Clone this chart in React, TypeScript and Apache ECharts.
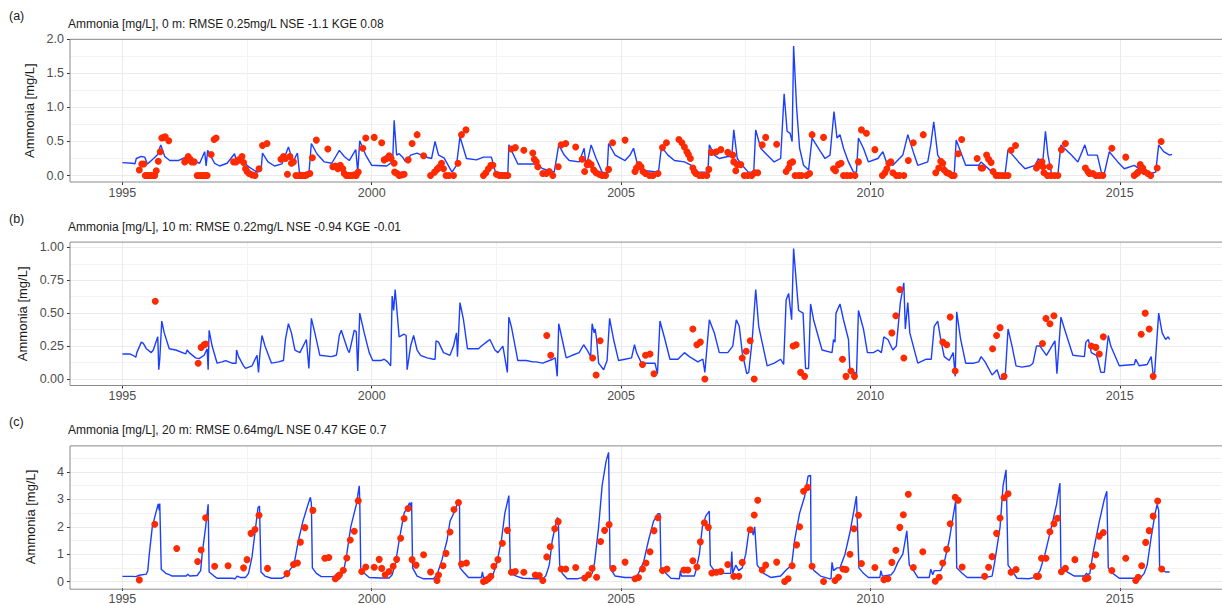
import React, { useEffect, useRef } from "react";
import * as echarts from "echarts";

// Modelled ammonia concentration at three depths (decimal year, mg/L)
const modelSurface: [number, number][] = [
  [1995.00,0.19],[1995.20,0.18],[1995.25,0.17],[1995.28,0.25],[1995.38,0.28],[1995.45,0.27],[1995.50,0.17],[1995.55,0.20],[1995.70,0.30],[1995.77,0.45],[1995.85,0.28],[1995.95,0.22],
  [1996.12,0.22],[1996.30,0.28],[1996.42,0.22],[1996.55,0.18],[1996.65,0.35],[1996.68,0.14],[1996.71,0.37],[1996.85,0.18],[1996.95,0.14],
  [1997.10,0.18],[1997.25,0.32],[1997.30,0.17],[1997.40,0.21],[1997.55,0.12],[1997.70,0.05],[1997.78,0.07],[1997.81,0.33],[1997.92,0.20],
  [1998.05,0.14],[1998.20,0.17],[1998.33,0.42],[1998.42,0.20],[1998.51,0.33],[1998.55,0.05],[1998.74,0.02],[1998.79,0.47],[1998.90,0.32],
  [1999.05,0.20],[1999.20,0.18],[1999.35,0.37],[1999.45,0.28],[1999.55,0.22],[1999.68,0.38],[1999.72,0.05],[1999.76,0.51],[1999.88,0.30],
  [2000.00,0.15],[2000.30,0.14],[2000.42,0.20],[2000.45,0.81],[2000.50,0.30],[2000.55,0.32],[2000.62,0.27],[2000.68,0.20],[2000.78,0.30],[2000.91,0.33],
  [2001.05,0.28],[2001.20,0.25],[2001.27,0.50],[2001.34,0.30],[2001.45,0.26],[2001.61,0.05],[2001.70,0.15],[2001.77,0.57],[2001.90,0.25],
  [2002.10,0.23],[2002.24,0.27],[2002.40,0.27],[2002.48,0.05],[2002.73,0.03],[2002.75,0.45],[2002.93,0.17],
  [2003.30,0.17],[2003.43,0.10],[2003.66,0.05],[2003.75,0.45],[2003.86,0.30],[2003.96,0.22],
  [2004.16,0.20],[2004.26,0.40],[2004.30,0.12],[2004.40,0.45],[2004.50,0.25],[2004.62,0.05],[2004.72,0.04],[2004.75,0.47],[2004.88,0.30],
  [2005.08,0.22],[2005.18,0.30],[2005.25,0.40],[2005.35,0.10],[2005.50,0.07],[2005.75,0.05],[2005.81,0.42],[2005.94,0.30],
  [2006.07,0.22],[2006.27,0.20],[2006.41,0.15],[2006.54,0.05],[2006.74,0.05],[2006.77,0.45],[2006.87,0.30],[2006.97,0.25],
  [2007.14,0.28],[2007.22,0.28],[2007.26,0.67],[2007.33,0.25],[2007.43,0.15],[2007.55,0.05],[2007.66,0.05],[2007.70,0.67],[2007.80,0.40],[2007.93,0.30],
  [2008.07,0.20],[2008.20,0.25],[2008.27,1.20],[2008.33,0.65],[2008.39,0.62],[2008.43,0.50],[2008.46,1.90],[2008.52,1.00],[2008.58,0.40],[2008.66,0.15],[2008.76,0.08],[2008.83,0.55],
  [2009.00,0.35],[2009.09,0.25],[2009.19,0.30],[2009.27,0.94],[2009.33,0.55],[2009.39,0.60],[2009.46,0.40],[2009.56,0.20],[2009.66,0.05],[2009.72,0.05],[2009.76,0.55],[2009.86,0.40],[2009.96,0.20],
  [2010.15,0.25],[2010.25,0.35],[2010.32,0.20],[2010.45,0.15],[2010.65,0.30],[2010.75,0.60],[2010.88,0.30],[2010.95,0.15],
  [2011.15,0.20],[2011.21,0.45],[2011.27,0.79],[2011.35,0.30],[2011.51,0.10],[2011.68,0.02],[2011.72,0.52],[2011.91,0.15],
  [2012.17,0.15],[2012.22,0.20],[2012.44,0.05],[2012.70,0.02],[2012.76,0.38],[2012.97,0.20],
  [2013.10,0.10],[2013.30,0.15],[2013.37,0.25],[2013.45,0.15],[2013.51,0.65],[2013.56,0.30],[2013.63,0.03],[2013.76,0.02],[2013.82,0.45],
  [2014.03,0.30],[2014.16,0.20],[2014.30,0.45],[2014.36,0.30],[2014.55,0.30],[2014.63,0.05],[2014.69,0.03],[2014.79,0.35],[2014.96,0.20],
  [2015.09,0.10],[2015.29,0.15],[2015.49,0.05],[2015.62,0.03],[2015.72,0.05],[2015.78,0.45],[2015.88,0.35],[2016.00,0.30],[2016.05,0.31],
];

const observedSurface: [number, number][] = [
  [1995.34,0.08],[1995.39,0.17],[1995.43,0.17],[1995.46,0],[1995.49,0],[1995.52,0],[1995.55,0],[1995.58,0],[1995.62,0],[1995.65,0],[1995.68,0.07],[1995.72,0.21],[1995.76,0.35],[1995.79,0.55],[1995.83,0.56],[1995.86,0.57],[1995.93,0.51],
  [1996.25,0.2],[1996.29,0.23],[1996.32,0.28],[1996.36,0.24],[1996.39,0.2],[1996.44,0.2],[1996.5,0],[1996.54,0],[1996.58,0],[1996.62,0],[1996.66,0],[1996.7,0],[1996.78,0.31],[1996.84,0.53],[1996.88,0.55],
  [1997.23,0.2],[1997.28,0.2],[1997.33,0.23],[1997.4,0.28],[1997.43,0.19],[1997.47,0.1],[1997.5,0.06],[1997.54,0.03],[1997.6,0.01],[1997.66,0],[1997.74,0.1],[1997.81,0.44],[1997.9,0.47],
  [1998.18,0.24],[1998.23,0.28],[1998.27,0.25],[1998.31,0.02],[1998.36,0.28],[1998.39,0.18],[1998.43,0.2],[1998.48,0],[1998.54,0],[1998.58,0],[1998.62,0],[1998.66,0],[1998.7,0.01],[1998.76,0.03],[1998.81,0.26],[1998.89,0.52],
  [1999.12,0.39],[1999.22,0.13],[1999.27,0.14],[1999.32,0.1],[1999.37,0.15],[1999.42,0.1],[1999.45,0.03],[1999.49,0],[1999.53,0],[1999.57,0],[1999.61,0],[1999.65,0.01],[1999.69,0],[1999.73,0.05],[1999.82,0.4],[1999.88,0.55],
  [2000.05,0.56],[2000.2,0.48],[2000.25,0.23],[2000.3,0.25],[2000.35,0.29],[2000.39,0.25],[2000.45,0.18],[2000.46,0.05],[2000.51,0.03],[2000.55,0],[2000.6,0.01],[2000.65,0.02],[2000.73,0.23],[2000.81,0.47],[2000.91,0.6],
  [2001.04,0.29],[2001.18,0],[2001.26,0.05],[2001.31,0.09],[2001.35,0.12],[2001.4,0.18],[2001.44,0.1],[2001.49,0],[2001.55,0],[2001.64,0],[2001.73,0.18],[2001.8,0.6],[2001.89,0.67],
  [2002.24,0],[2002.29,0.04],[2002.34,0.1],[2002.39,0.15],[2002.43,0.15],[2002.5,0.02],[2002.56,0],[2002.62,0],[2002.68,0],[2002.73,0],[2002.8,0.39],[2002.88,0.41],
  [2003.05,0.37],[2003.23,0.33],[2003.26,0.24],[2003.3,0.2],[2003.33,0.13],[2003.43,0.03],[2003.5,0.03],[2003.56,0.06],[2003.63,0],[2003.74,0.13],[2003.8,0.45],[2003.89,0.47],
  [2004.09,0.42],[2004.22,0.24],[2004.27,0.06],[2004.32,0.16],[2004.35,0.19],[2004.4,0.16],[2004.45,0.08],[2004.5,0.04],[2004.56,0.02],[2004.62,0],[2004.69,0],[2004.75,0.09],[2004.83,0.48],
  [2005.08,0.52],[2005.28,0.06],[2005.31,0.11],[2005.36,0.16],[2005.4,0.13],[2005.44,0.06],[2005.49,0.03],[2005.57,0],[2005.64,0],[2005.74,0.03],[2005.83,0.41],[2005.91,0.48],
  [2006.16,0.53],[2006.22,0.48],[2006.27,0.42],[2006.32,0.35],[2006.35,0.31],[2006.39,0.25],[2006.44,0.11],[2006.47,0.06],[2006.5,0.03],[2006.57,0],[2006.64,0],[2006.72,0],[2006.76,0.09],[2006.81,0.34],[2006.91,0.35],
  [2007.0,0.38],[2007.14,0.34],[2007.24,0.3],[2007.26,0.2],[2007.3,0.07],[2007.33,0.16],[2007.4,0.16],[2007.47,0],[2007.54,0],[2007.62,0],[2007.68,0.04],[2007.74,0.04],[2007.83,0.45],[2007.9,0.56],
  [2008.12,0.46],[2008.31,0.06],[2008.36,0.11],[2008.39,0.18],[2008.44,0.2],[2008.49,0],[2008.56,0],[2008.62,0],[2008.72,0],[2008.78,0.03],[2008.83,0.6],
  [2009.06,0.56],[2009.26,0.1],[2009.3,0.07],[2009.36,0.16],[2009.41,0.18],[2009.46,0],[2009.53,0],[2009.6,0],[2009.69,0],[2009.76,0.2],[2009.82,0.67],[2009.92,0.62],
  [2010.09,0.38],[2010.24,0],[2010.29,0.04],[2010.33,0.1],[2010.37,0.18],[2010.41,0.2],[2010.45,0.04],[2010.52,0],[2010.58,0],[2010.67,0],[2010.76,0.22],[2010.86,0.48],
  [2011.06,0.6],[2011.31,0.04],[2011.37,0.11],[2011.41,0.21],[2011.45,0.18],[2011.48,0.08],[2011.53,0.04],[2011.58,0.03],[2011.63,0],[2011.68,0],[2011.76,0.32],[2011.83,0.53],
  [2012.14,0.25],[2012.22,0.11],[2012.25,0.11],[2012.33,0.3],[2012.37,0.24],[2012.42,0.19],[2012.46,0.06],[2012.52,0],[2012.58,0],[2012.64,0],[2012.7,0],[2012.76,0],[2012.82,0.37],[2012.91,0.44],
  [2013.33,0.11],[2013.36,0.15],[2013.41,0.18],[2013.44,0.2],[2013.46,0.13],[2013.48,0.04],[2013.55,0],[2013.59,0.13],[2013.62,0],[2013.69,0],[2013.76,0],[2013.83,0.38],[2013.91,0.47],
  [2014.31,0.11],[2014.36,0.06],[2014.39,0.03],[2014.46,0.03],[2014.52,0],[2014.59,0],[2014.66,0],[2014.84,0.4],
  [2015.12,0.27],[2015.29,0],[2015.34,0.03],[2015.37,0.05],[2015.41,0.16],[2015.46,0.11],[2015.49,0.06],[2015.56,0.03],[2015.62,0],[2015.75,0.11],[2015.83,0.5],
];

const modelMid: [number, number][] = [
  [1995.0,0.19],[1995.15,0.19],[1995.21,0.18],[1995.27,0.165],[1995.29,0.2],[1995.38,0.28],[1995.42,0.27],[1995.48,0.23],[1995.58,0.2],[1995.62,0.22],[1995.71,0.32],[1995.73,0.07],[1995.75,0.15],[1995.79,0.44],[1995.84,0.35],[1995.94,0.23],
  [1996.07,0.22],[1996.27,0.19],[1996.3,0.22],[1996.34,0.2],[1996.47,0.16],[1996.54,0.155],[1996.64,0.18],[1996.7,0.23],[1996.72,0.07],[1996.74,0.37],[1996.8,0.25],[1996.9,0.12],
  [1997.0,0.13],[1997.07,0.14],[1997.2,0.12],[1997.28,0.12],[1997.29,0.22],[1997.33,0.17],[1997.43,0.1],[1997.47,0.08],[1997.6,0.1],[1997.7,0.18],[1997.73,0.05],[1997.76,0.2],[1997.8,0.33],[1997.86,0.25],[1997.99,0.12],
  [1998.13,0.13],[1998.23,0.14],[1998.27,0.3],[1998.33,0.42],[1998.39,0.35],[1998.46,0.22],[1998.56,0.2],[1998.69,0.3],[1998.74,0.08],[1998.79,0.46],[1998.86,0.35],[1998.96,0.18],
  [1999.19,0.17],[1999.29,0.18],[1999.31,0.22],[1999.35,0.33],[1999.39,0.37],[1999.45,0.3],[1999.52,0.22],[1999.55,0.2],[1999.58,0.25],[1999.65,0.37],[1999.69,0.36],[1999.72,0.06],[1999.76,0.5],[1999.85,0.35],[1999.95,0.2],
  [2000.02,0.14],[2000.18,0.14],[2000.25,0.15],[2000.32,0.13],[2000.38,0.1],[2000.41,0.63],[2000.44,0.52],[2000.47,0.68],[2000.55,0.32],[2000.65,0.34],[2000.69,0.33],[2000.71,0.07],[2000.78,0.25],[2000.84,0.33],[2000.91,0.22],[2000.98,0.18],
  [2001.11,0.16],[2001.24,0.15],[2001.27,0.15],[2001.29,0.29],[2001.34,0.28],[2001.44,0.2],[2001.57,0.18],[2001.64,0.25],[2001.7,0.35],[2001.72,0.17],[2001.77,0.58],[2001.84,0.45],[2001.92,0.23],
  [2002.14,0.23],[2002.2,0.25],[2002.3,0.28],[2002.37,0.3],[2002.47,0.22],[2002.53,0.2],[2002.63,0.25],[2002.72,0.05],[2002.75,0.47],[2002.8,0.4],[2002.93,0.14],
  [2003.1,0.14],[2003.23,0.13],[2003.3,0.13],[2003.43,0.12],[2003.63,0.15],[2003.68,0.16],[2003.72,0.02],[2003.75,0.42],[2003.82,0.3],[2003.9,0.16],
  [2004.02,0.18],[2004.16,0.2],[2004.25,0.26],[2004.32,0.22],[2004.39,0.17],[2004.42,0.42],[2004.46,0.35],[2004.48,0.38],[2004.51,0.3],[2004.55,0.12],[2004.65,0.07],[2004.72,0.14],[2004.77,0.46],[2004.85,0.3],[2004.95,0.14],
  [2005.08,0.15],[2005.21,0.16],[2005.27,0.26],[2005.31,0.2],[2005.41,0.12],[2005.68,0.12],[2005.73,0.04],[2005.78,0.44],[2005.88,0.3],[2005.98,0.15],
  [2006.14,0.15],[2006.27,0.2],[2006.37,0.17],[2006.54,0.13],[2006.64,0.15],[2006.68,0.05],[2006.77,0.45],[2006.87,0.35],[2006.97,0.2],
  [2007.14,0.2],[2007.24,0.25],[2007.31,0.45],[2007.37,0.4],[2007.43,0.2],[2007.52,0.04],[2007.56,0.05],[2007.63,0.3],[2007.7,0.68],[2007.76,0.4],[2007.93,0.1],
  [2008.07,0.12],[2008.2,0.15],[2008.26,0.11],[2008.31,0.6],[2008.36,0.65],[2008.42,0.45],[2008.46,0.99],[2008.5,0.8],[2008.56,0.52],[2008.65,0.5],[2008.7,0.08],[2008.76,0.08],[2008.8,0.57],[2008.86,0.45],
  [2009.03,0.22],[2009.23,0.2],[2009.26,0.3],[2009.29,0.28],[2009.31,0.5],[2009.39,0.57],[2009.46,0.45],[2009.56,0.3],[2009.59,0.05],[2009.69,0.05],[2009.72,0.02],[2009.76,0.52],[2009.86,0.38],[2009.94,0.2],
  [2010.06,0.2],[2010.15,0.22],[2010.22,0.2],[2010.27,0.32],[2010.35,0.3],[2010.45,0.22],[2010.52,0.25],[2010.6,0.58],[2010.67,0.73],[2010.7,0.38],[2010.75,0.58],[2010.79,0.35],[2010.95,0.12],
  [2011.12,0.15],[2011.22,0.15],[2011.28,0.4],[2011.35,0.44],[2011.41,0.3],[2011.48,0.17],[2011.58,0.14],[2011.66,0.2],[2011.7,0.02],[2011.73,0.51],[2011.81,0.3],[2011.91,0.12],
  [2012.07,0.12],[2012.17,0.13],[2012.22,0.17],[2012.3,0.13],[2012.44,0.03],[2012.54,0.07],[2012.6,0.0],[2012.7,0.0],[2012.76,0.38],[2012.84,0.25],[2012.92,0.1],
  [2013.04,0.09],[2013.2,0.1],[2013.26,0.12],[2013.33,0.25],[2013.4,0.25],[2013.53,0.18],[2013.7,0.29],[2013.74,0.04],[2013.82,0.47],[2013.9,0.37],
  [2014.06,0.18],[2014.29,0.17],[2014.32,0.28],[2014.37,0.3],[2014.43,0.2],[2014.53,0.18],[2014.56,0.15],[2014.62,0.05],[2014.69,0.05],[2014.77,0.33],[2014.82,0.25],[2014.99,0.1],
  [2015.29,0.11],[2015.32,0.15],[2015.39,0.1],[2015.55,0.11],[2015.63,0.17],[2015.67,0.03],[2015.7,0.05],[2015.78,0.5],[2015.85,0.35],[2015.92,0.3],[2015.97,0.32],[2016.0,0.3],
];

const observedMid: [number, number][] = [
  [1995.66,0.59],[1996.52,0.12],[1996.58,0.24],[1996.64,0.26],[1996.67,0.265],
  [2003.51,0.33],[2003.59,0.18],[2004.43,0.16],[2004.5,0.03],[2004.58,0.29],
  [2005.43,0.11],[2005.49,0.18],[2005.58,0.19],[2005.66,0.04],[2006.44,0.38],[2006.52,0.26],[2006.59,0.28],[2006.68,0.0],
  [2007.43,0.16],[2007.51,0.21],[2007.59,0.29],[2007.67,0.0],[2008.45,0.25],[2008.51,0.26],[2008.6,0.05],[2008.68,0.02],
  [2009.44,0.15],[2009.51,0.02],[2009.61,0.06],[2009.68,0.02],[2010.43,0.35],[2010.51,0.48],[2010.59,0.68],[2010.67,0.16],
  [2011.45,0.28],[2011.53,0.26],[2011.6,0.47],[2011.7,0.06],[2012.45,0.23],[2012.53,0.33],[2012.6,0.39],[2012.68,0.02],
  [2013.45,0.27],[2013.52,0.46],[2013.6,0.42],[2013.68,0.48],[2014.43,0.25],[2014.52,0.24],[2014.59,0.19],[2014.67,0.32],
  [2015.43,0.34],[2015.51,0.5],[2015.59,0.38],[2015.67,0.02],
];

const modelBottom: [number, number][] = [
  [1995.0,0.19],[1995.21,0.19],[1995.27,0.18],[1995.34,0.23],[1995.48,0.27],[1995.51,0.4],[1995.54,1.0],[1995.6,2.0],[1995.67,2.5],[1995.72,2.84],[1995.74,2.6],[1995.75,2.85],[1995.78,0.45],[1995.87,0.3],[1995.94,0.25],
  [1996.0,0.2],[1996.2,0.2],[1996.28,0.2],[1996.31,0.27],[1996.35,0.2],[1996.5,0.22],[1996.57,0.4],[1996.6,1.0],[1996.67,2.0],[1996.72,2.82],[1996.74,0.35],[1996.84,0.2],[1996.9,0.12],
  [1997.2,0.12],[1997.26,0.1],[1997.3,0.2],[1997.36,0.15],[1997.47,0.15],[1997.53,0.3],[1997.6,0.9],[1997.66,1.8],[1997.72,2.7],[1997.75,2.76],[1997.78,0.35],[1997.86,0.2],[1997.99,0.12],
  [1998.19,0.12],[1998.23,0.15],[1998.33,0.35],[1998.39,0.5],[1998.46,0.8],[1998.53,1.5],[1998.62,2.2],[1998.72,2.8],[1998.77,3.08],[1998.79,2.85],[1998.81,0.5],[1998.89,0.3],[1998.99,0.18],
  [1999.19,0.18],[1999.39,0.2],[1999.45,0.5],[1999.5,1.0],[1999.58,2.0],[1999.69,2.8],[1999.75,3.5],[1999.76,3.0],[1999.78,0.5],[1999.85,0.3],[1999.95,0.15],
  [2000.18,0.13],[2000.35,0.13],[2000.41,0.25],[2000.48,0.7],[2000.55,1.5],[2000.65,2.5],[2000.76,2.88],[2000.78,2.75],[2000.8,2.9],[2000.82,0.5],[2000.91,0.2],
  [2001.04,0.1],[2001.24,0.1],[2001.31,0.25],[2001.41,0.8],[2001.51,1.5],[2001.57,2.2],[2001.67,2.6],[2001.74,2.94],[2001.76,2.9],[2001.77,0.5],[2001.84,0.35],[2001.94,0.15],
  [2002.2,0.15],[2002.22,0.35],[2002.24,0.15],[2002.37,0.15],[2002.43,0.25],[2002.5,0.6],[2002.6,1.5],[2002.67,2.5],[2002.75,3.14],[2002.78,0.3],[2002.9,0.2],
  [2003.03,0.12],[2003.3,0.1],[2003.43,0.1],[2003.49,0.2],[2003.56,0.6],[2003.62,1.5],[2003.72,2.33],[2003.74,2.3],[2003.77,0.6],[2003.82,0.3],[2003.92,0.1],
  [2004.12,0.1],[2004.32,0.2],[2004.42,0.3],[2004.47,0.7],[2004.55,2.0],[2004.62,3.5],[2004.7,4.4],[2004.75,4.72],[2004.78,0.5],[2004.88,0.2],
  [2005.08,0.15],[2005.28,0.15],[2005.35,0.3],[2005.45,0.7],[2005.55,1.5],[2005.65,2.2],[2005.74,2.48],[2005.78,2.48],[2005.8,0.5],[2005.9,0.3],
  [2006.0,0.12],[2006.17,0.1],[2006.19,0.4],[2006.21,0.2],[2006.47,0.2],[2006.5,0.4],[2006.57,1.0],[2006.63,2.0],[2006.7,2.4],[2006.77,2.57],[2006.79,0.6],[2006.87,0.4],
  [2007.07,0.3],[2007.2,0.3],[2007.22,1.1],[2007.24,0.3],[2007.3,0.6],[2007.36,0.4],[2007.43,0.5],[2007.5,1.0],[2007.56,1.8],[2007.63,1.9],[2007.65,1.7],[2007.68,2.0],[2007.73,0.6],[2007.86,0.3],
  [2008.0,0.15],[2008.2,0.2],[2008.3,0.4],[2008.42,0.6],[2008.48,1.5],[2008.58,2.5],[2008.68,3.1],[2008.75,3.85],[2008.8,3.88],[2008.81,0.6],[2008.87,0.4],
  [2009.0,0.2],[2009.19,0.1],[2009.21,0.1],[2009.23,0.7],[2009.26,0.4],[2009.33,0.5],[2009.39,0.5],[2009.49,1.0],[2009.59,1.8],[2009.67,2.6],[2009.72,3.12],[2009.77,0.5],[2009.86,0.3],[2009.96,0.15],
  [2010.19,0.15],[2010.21,0.4],[2010.24,0.2],[2010.42,0.25],[2010.48,0.4],[2010.55,0.7],[2010.65,1.0],[2010.73,1.85],[2010.78,0.6],[2010.88,0.35],[2010.95,0.15],
  [2011.18,0.15],[2011.21,0.45],[2011.25,0.25],[2011.28,0.4],[2011.41,0.4],[2011.48,0.7],[2011.58,1.5],[2011.66,2.4],[2011.71,2.95],[2011.73,0.5],[2011.84,0.3],[2011.94,0.15],
  [2012.31,0.15],[2012.44,0.2],[2012.5,0.8],[2012.6,2.0],[2012.66,3.5],[2012.72,4.08],[2012.76,0.6],[2012.84,0.4],[2012.94,0.12],
  [2013.17,0.1],[2013.3,0.15],[2013.4,0.4],[2013.5,1.0],[2013.63,2.0],[2013.73,2.8],[2013.8,3.6],[2013.82,0.5],[2013.9,0.4],
  [2014.09,0.2],[2014.29,0.2],[2014.33,0.3],[2014.36,0.25],[2014.4,0.3],[2014.46,1.0],[2014.59,2.2],[2014.69,3.0],[2014.74,3.3],[2014.77,0.5],[2014.86,0.3],[2014.99,0.12],
  [2015.29,0.12],[2015.35,0.2],[2015.42,0.15],[2015.49,0.3],[2015.55,0.6],[2015.62,1.5],[2015.71,2.5],[2015.75,2.82],[2015.78,2.6],[2015.8,0.5],[2015.85,0.4],[2015.92,0.35],[2016.0,0.35],
];

const observedBottom: [number, number][] = [
  [1995.34,0.06],[1995.65,2.09],[1996.09,1.21],[1996.51,0.73],[1996.58,1.15],[1996.67,2.33],[1996.85,0.56],
  [1997.12,0.58],[1997.43,0.5],[1997.5,0.8],[1997.58,1.76],[1997.66,1.9],[1997.74,2.42],[1997.91,0.48],
  [1998.3,0.29],[1998.43,0.62],[1998.51,0.68],[1998.57,1.44],[1998.66,1.97],[1998.82,2.6],
  [1999.06,0.85],[1999.14,0.88],[1999.27,0.1],[1999.32,0.18],[1999.35,0.24],[1999.43,0.41],[1999.5,0.86],[1999.57,1.52],[1999.65,1.84],[1999.73,2.95],[1999.8,0.37],[1999.88,0.53],
  [2000.05,0.52],[2000.15,0.81],[2000.2,0.48],[2000.27,0.25],[2000.35,0.37],[2000.43,0.56],[2000.5,0.81],[2000.58,1.58],[2000.65,2.3],[2000.73,2.67],[2000.81,0.8],[2000.89,0.6],
  [2001.04,0.98],[2001.18,0.35],[2001.31,0.04],[2001.34,0.24],[2001.43,0.58],[2001.49,1.03],[2001.57,1.81],[2001.65,2.63],[2001.74,2.89],[2001.8,0.64],[2001.9,0.68],
  [2002.24,0.0],[2002.29,0.04],[2002.34,0.1],[2002.39,0.19],[2002.45,0.56],[2002.53,0.8],[2002.62,1.4],[2002.72,1.87],[2002.8,0.34],[2002.88,0.37],
  [2003.05,0.34],[2003.28,0.24],[2003.36,0.22],[2003.43,0.04],[2003.51,0.9],[2003.58,1.27],[2003.67,1.93],[2003.74,2.19],[2003.8,0.46],[2003.89,0.46],
  [2004.09,0.51],[2004.27,0.13],[2004.35,0.25],[2004.42,0.48],[2004.51,0.16],[2004.59,1.46],[2004.67,1.87],[2004.76,2.08],[2004.84,0.48],
  [2005.08,0.71],[2005.28,0.1],[2005.35,0.15],[2005.43,0.46],[2005.5,0.68],[2005.58,1.09],[2005.66,1.86],[2005.74,2.33],[2005.83,0.4],[2005.92,0.46],
  [2006.26,0.42],[2006.34,0.42],[2006.44,0.76],[2006.52,0.53],[2006.59,1.45],[2006.67,2.15],[2006.75,1.98],[2006.82,0.31],[2006.91,0.34],
  [2007.0,0.37],[2007.14,0.62],[2007.26,0.19],[2007.36,0.19],[2007.43,0.7],[2007.59,1.89],[2007.67,2.43],[2007.74,2.97],[2007.83,0.42],[2007.9,0.6],
  [2008.12,0.71],[2008.28,0.0],[2008.35,0.1],[2008.43,0.58],[2008.52,1.34],[2008.58,2.0],[2008.66,3.3],[2008.74,3.44],[2008.83,0.56],
  [2009.06,0.0],[2009.29,0.04],[2009.36,0.16],[2009.45,0.46],[2009.51,0.44],[2009.59,1.0],[2009.67,1.93],[2009.76,2.42],[2009.82,0.66],
  [2010.09,0.51],[2010.27,0.07],[2010.35,0.1],[2010.43,0.7],[2010.51,1.14],[2010.59,1.98],[2010.66,2.44],[2010.76,3.19],[2010.86,0.51],
  [2011.05,1.09],[2011.3,0.01],[2011.38,0.16],[2011.45,0.68],[2011.53,1.18],[2011.6,2.11],[2011.7,3.08],[2011.76,2.97],[2011.84,0.53],
  [2012.29,0.19],[2012.37,0.52],[2012.44,0.91],[2012.53,1.76],[2012.6,2.32],[2012.68,3.06],[2012.76,3.21],[2012.82,0.34],[2012.92,0.44],
  [2013.33,0.19],[2013.37,0.19],[2013.43,0.85],[2013.52,0.85],[2013.6,1.82],[2013.68,2.11],[2013.75,2.31],[2013.83,0.36],[2013.91,0.48],
  [2014.1,0.8],[2014.31,0.1],[2014.36,0.13],[2014.45,0.56],[2014.52,0.98],[2014.59,1.66],[2014.67,1.79],[2014.84,0.4],
  [2015.12,0.85],[2015.32,0.04],[2015.37,0.16],[2015.44,0.58],[2015.52,1.43],[2015.59,1.86],[2015.67,2.39],[2015.76,2.94],[2015.84,0.46],
];

// Axis breaks
const yearTicks = [1995, 2000, 2005, 2010, 2015];
const yearMinorTicks = [1997.5, 2002.5, 2007.5, 2012.5];
const surfaceTicks = [0, 0.5, 1, 1.5, 2];
const surfaceMinorTicks = [0.25, 0.75, 1.25, 1.75];
const midTicks = [0, 0.25, 0.5, 0.75, 1];
const midMinorTicks = [0.125, 0.375, 0.625, 0.875];
const bottomTicks = [0, 1, 2, 3, 4];
const bottomMinorTicks = [0.5, 1.5, 2.5, 3.5, 4.5];

const panelTags = ["(a)", "(b)", "(c)"];
const panelTitles = [
  "Ammonia [mg/L], 0 m: RMSE 0.25mg/L NSE -1.1 KGE 0.08",
  "Ammonia [mg/L], 10 m: RMSE 0.22mg/L NSE -0.94 KGE -0.01",
  "Ammonia [mg/L], 20 m: RMSE 0.64mg/L NSE 0.47 KGE 0.7",
];

const FONT = "'Liberation Sans', Arial, Helvetica, sans-serif";
const LINE_COLOR = "#1c3fff";
const DOT_COLOR = "#ff2a00";
const GRID_LEFT = 70;
const GRID_WIDTH = 1162;
const X_MIN = 1993.95;
const X_MAX = 2017.05;

const panels = [
  { top: 39.3, height: 142.7, yMin: -0.095, yMax: 2.0, ticks: surfaceTicks, minor: surfaceMinorTicks, digits: 1, model: modelSurface, obs: observedSurface },
  { top: 242.1, height: 143.4, yMin: -0.0495, yMax: 1.0395, ticks: midTicks, minor: midMinorTicks, digits: 2, model: modelMid, obs: observedMid },
  { top: 445.9, height: 143.3, yMin: -0.236, yMax: 4.956, ticks: bottomTicks, minor: bottomMinorTicks, digits: 0, model: modelBottom, obs: observedBottom },
];

function buildOption(): echarts.EChartsOption {
  const grid: any[] = [];
  const xAxis: any[] = [];
  const yAxis: any[] = [];
  const series: any[] = [];
  const graphic: any[] = [];

  panels.forEach((p, i) => {
    grid.push({ left: GRID_LEFT, top: p.top, width: GRID_WIDTH, height: p.height, show: false, containLabel: false });

    // major x axis: ticks, labels, major grid
    xAxis.push({
      type: "value", gridIndex: i, min: X_MIN, max: X_MAX,
      axisLine: { show: false, onZero: false },
      axisTick: { show: true, length: 3, customValues: yearTicks, lineStyle: { color: "#333333", width: 1 } },
      axisLabel: { customValues: yearTicks, color: "#4d4d4d", fontSize: 12.5, margin: 4, fontFamily: FONT, formatter: (v: number) => String(Math.round(v)) },
      splitLine: { show: true, lineStyle: { color: "#ebebeb", width: 1 } },
    });
    // minor x grid
    xAxis.push({
      type: "value", gridIndex: i, min: X_MIN, max: X_MAX, position: "bottom",
      axisLine: { show: false, onZero: false },
      axisTick: { show: false, customValues: yearMinorTicks },
      axisLabel: { show: false, customValues: yearMinorTicks },
      splitLine: { show: true, lineStyle: { color: "#f3f3f3", width: 1 } },
    });
    yAxis.push({
      type: "value", gridIndex: i, min: p.yMin, max: p.yMax,
      axisLine: { show: false, onZero: false },
      axisTick: { show: true, length: 3, customValues: p.ticks, lineStyle: { color: "#333333", width: 1 } },
      axisLabel: { customValues: p.ticks, color: "#4d4d4d", fontSize: 12.5, margin: 6, fontFamily: FONT, formatter: (v: number) => v.toFixed(p.digits) },
      splitLine: { show: true, lineStyle: { color: "#ebebeb", width: 1 } },
      name: "Ammonia [mg/L]", nameLocation: "middle", nameGap: 33,
      nameTextStyle: { fontSize: 13, color: "#1a1a1a", fontFamily: FONT },
    });
    yAxis.push({
      type: "value", gridIndex: i, min: p.yMin, max: p.yMax, position: "left",
      axisLine: { show: false, onZero: false },
      axisTick: { show: false, customValues: p.minor },
      axisLabel: { show: false, customValues: p.minor },
      splitLine: { show: true, lineStyle: { color: "#f3f3f3", width: 1 } },
    });

    series.push({
      type: "line", xAxisIndex: 2 * i, yAxisIndex: 2 * i, data: p.model,
      symbol: "none", showSymbol: false, z: 3,
      lineStyle: { color: LINE_COLOR, width: 1.4 },
    });
    series.push({
      type: "scatter", xAxisIndex: 2 * i, yAxisIndex: 2 * i, data: p.obs,
      symbol: "circle", symbolSize: 7, z: 4,
      itemStyle: { color: DOT_COLOR, opacity: 1 },
    });

    // panel border
    graphic.push({
      type: "rect", z: 100, silent: true,
      shape: { x: GRID_LEFT, y: p.top, width: GRID_WIDTH, height: p.height },
      style: { fill: "none", stroke: "#8a8a8a", lineWidth: 1 },
    });
    graphic.push({
      type: "text", z: 100, left: 9, top: p.top - 23 - 7,
      style: { text: panelTags[i], fontSize: 12.5, fill: "#1a1a1a", fontFamily: FONT },
    });
    graphic.push({
      type: "text", z: 100, left: 68, top: p.top - 14.5 - 7,
      style: { text: panelTitles[i], fontSize: 12, fill: "#1a1a1a", fontFamily: FONT },
    });
  });

  return { animation: false, backgroundColor: "#ffffff", grid, xAxis, yAxis, series, graphic };
}

export default function App() {
  const ref = useRef<HTMLDivElement>(null);
  useEffect(() => {
    if (!ref.current) return;
    const chart = echarts.init(ref.current, null, { renderer: "svg" });
    chart.setOption(buildOption());
    return () => chart.dispose();
  }, []);
  return (
    <div
      ref={ref}
      style={{ position: "absolute", left: 0, top: 0, width: 1222, height: 605, background: "#ffffff" }}
    />
  );
}
